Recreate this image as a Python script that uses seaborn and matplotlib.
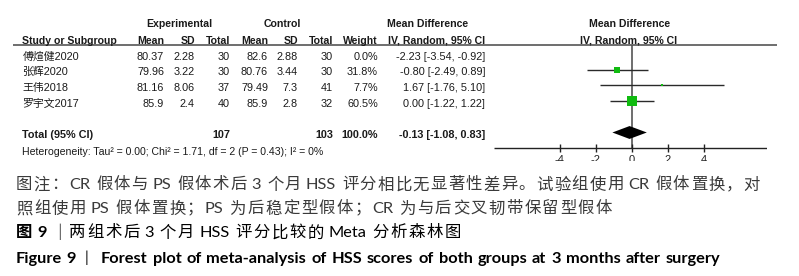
import matplotlib
matplotlib.use("Agg")
import matplotlib.pyplot as plt
import matplotlib.transforms as mtransforms
import seaborn as sns
import pandas as pd

# ---------------- data ----------------
studies = ["傅煊健2020", "张辉2020", "王伟2018", "罗宇文2017"]
exp_mean = [80.37, 79.96, 81.16, 85.9]
exp_sd = [2.28, 3.22, 8.06, 2.4]
exp_n = [30, 30, 37, 40]
ctl_mean = [82.6, 80.76, 79.49, 85.9]
ctl_sd = [2.88, 3.44, 7.3, 2.8]
ctl_n = [30, 30, 41, 32]
weight = [0.0, 31.8, 7.7, 60.5]
md = [-2.23, -0.80, 1.67, 0.00]
ci_lo = [-3.54, -2.49, -1.76, -1.22]
ci_hi = [-0.92, 0.89, 5.10, 1.22]
total_exp_n = 107
total_ctl_n = 103
total_weight = 100.0
total_md = -0.13
total_lo = -1.08
total_hi = 0.83
heterogeneity = "Heterogeneity: Tau² = 0.00; Chi² = 1.71, df = 2 (P = 0.43); I² = 0%"
xticks = [-4, -2, 0, 2, 4]

caption1 = "图注：CR 假体与 PS 假体术后 3 个月 HSS 评分相比无显著性差异。试验组使用 CR 假体置换，对"
caption2 = "照组使用 PS 假体置换；PS 为后稳定型假体；CR 为与后交叉韧带保留型假体"
caption3a = "图 9"
caption3b = "两组术后 3 个月 HSS 评分比较的 Meta 分析森林图"
caption4a = "Figure 9"
caption4b = "Forest plot of meta-analysis of HSS scores of both groups at 3 months after surgery"

# ---------------- style ----------------
sns.set_theme(style="white")
plt.rcParams["font.family"] = ["Liberation Sans", "Noto Sans CJK SC", "DejaVu Sans"]

W, H = 799, 276
fig = plt.figure(figsize=(W / 100, H / 100), dpi=100)
fig.patch.set_facecolor("white")

# overlay axes in pixel coordinates for table layout
tab = fig.add_axes([0, 0, 1, 1])
tab.set_xlim(0, W)
tab.set_ylim(H, 0)
tab.axis("off")

# forest axes
top_px, bot_px = 45, 161
left_px, right_px = 494, 767
ax = fig.add_axes([left_px / W, (H - bot_px) / H, (right_px - left_px) / W, (bot_px - top_px) / H])
row0_px, row_h = 54.0, 15.7
ylim_top = (top_px - row0_px) / row_h
ylim_bot = (bot_px - row0_px) / row_h
XMIN, XMAX = -7.65, 7.5

rows = list(range(len(studies)))
total_row = 5
axis_row = 6

df = pd.DataFrame({"study": studies, "md": md, "lo": ci_lo, "hi": ci_hi,
                   "weight": weight, "row": rows})
drawn = df[df["weight"] > 0].copy()
side_pt = (1 + 0.155 * drawn["weight"]) * 0.72
drawn["area"] = side_pt ** 2

line_col = "#2a2a2a"
green = "#10bb10"

# CI lines
ax.hlines(drawn["row"], drawn["lo"], drawn["hi"], color=line_col, lw=1.0, zorder=2)
# squares
sns.scatterplot(data=drawn, x="md", y="row", size="area",
                sizes=(drawn["area"].min(), drawn["area"].max()),
                size_norm=(drawn["area"].min(), drawn["area"].max()),
                marker="s", color=green, linewidth=0, legend=False, ax=ax, zorder=3)
ax.set_xlim(XMIN, XMAX)
ax.set_ylim(ylim_bot, ylim_top)
ax.axis("off")

# zero line
ax.vlines(0, ylim_top, axis_row, color="#555555", lw=1.2, zorder=1)
# diamond
dh = 0.41
ax.fill([total_lo, total_md, total_hi, total_md],
        [total_row, total_row - dh, total_row, total_row + dh],
        color="black", lw=0, zorder=4)
# x axis
ax.hlines(axis_row, XMIN, XMAX, color="#222222", lw=1.0)
ax.vlines(xticks, axis_row - 0.26, axis_row + 0.26, color="#222222", lw=1.0)
for t in xticks:
    ax.text(t, axis_row + 0.42, f"{t}", ha="center", va="top", fontsize=8,
            color="#222222", clip_on=True)

# ---------------- table ----------------
bt = mtransforms.blended_transform_factory(tab.transData, ax.transData)
fs = 7.8
tc = "#1a1a1a"
hdr = dict(fontsize=7.6, fontweight="bold", color=tc, transform=bt, va="center", clip_on=False)

def txt(x, r, s, ha="right", **kw):
    d = dict(fontsize=fs, color=tc, transform=bt, va="center", ha=ha, clip_on=False)
    d.update(kw)
    tab.text(x, r, s, **d)

r_grp = (24.3 - row0_px) / row_h
r_hdr = (40.7 - row0_px) / row_h
tab.text(179, r_grp, "Experimental", ha="center", **hdr)
tab.text(282, r_grp, "Control", ha="center", **hdr)
tab.text(428, r_grp, "Mean Difference", ha="center", **hdr)
tab.text(630, r_grp, "Mean Difference", ha="center", **hdr)

tab.text(22.5, r_hdr, "Study or Subgroup", ha="left", **hdr)
for x, s in [(164, "Mean"), (195, "SD"), (230, "Total"), (268, "Mean"), (298, "SD"),
             (333, "Total"), (378, "Weight"), (485, "IV, Random, 95% CI")]:
    tab.text(x, r_hdr, s, ha="right", **hdr)
tab.text(629, r_hdr, "IV, Random, 95% CI", ha="center", **hdr)

# header rule
tab.hlines(45, 13, 777, color="#555555", lw=1.2)

off = 0.17
for i, r in enumerate(rows):
    rr = r + off
    txt(22.5, rr, studies[i], ha="left")
    txt(164, rr, f"{exp_mean[i]:g}")
    txt(195, rr, f"{exp_sd[i]:g}")
    txt(230, rr, f"{exp_n[i]}")
    txt(268, rr, f"{ctl_mean[i]:g}")
    txt(298, rr, f"{ctl_sd[i]:g}")
    txt(333, rr, f"{ctl_n[i]}")
    txt(378, rr, f"{weight[i]:.1f}%")
    txt(485, rr, f"{md[i]:.2f} [{ci_lo[i]:.2f}, {ci_hi[i]:.2f}]")

rt = total_row + off
txt(22.5, rt, "Total (95% CI)", ha="left", fontweight="bold")
txt(230, rt, f"{total_exp_n}", fontweight="bold")
txt(333, rt, f"{total_ctl_n}", fontweight="bold")
txt(378, rt, f"{total_weight:.1f}%", fontweight="bold")
txt(485, rt, f"{total_md:.2f} [{total_lo:.2f}, {total_hi:.2f}]", fontweight="bold")
txt(22.5, (152.3 - row0_px) / row_h, heterogeneity, ha="left", fontsize=7.6)

# ---------------- caption ----------------
cap_fam = ["Lato", "Noto Sans CJK SC", "DejaVu Sans"]
renderer = fig.canvas.get_renderer()


def layout_line(x0, y, s, size, color, weight="normal", x1=None, sp_em=0.3):
    """Lay out a line unit by unit (full-width chars / Latin words).
    Extra tracking goes between adjacent non-space units; if there are none,
    the spaces are widened instead so the line spans x0..x1."""
    units, buf = [], ""
    for ch in s:
        if ch == " ":
            if buf:
                units.append(buf)
                buf = ""
            units.append(" ")
        elif ord(ch) < 0x2E80:
            buf += ch
        else:
            if buf:
                units.append(buf)
                buf = ""
            units.append(ch)
    if buf:
        units.append(buf)
    em = size * 100 / 72
    widths, texts = [], []
    for u in units:
        if u == " ":
            widths.append(em * sp_em)
            texts.append(None)
        else:
            t = tab.text(0, y, u, ha="left", va="center", fontsize=size, color=color,
                         family=cap_fam, fontweight=weight)
            if ord(u[0]) >= 0x2E80:
                widths.append(em)  # full-width advance
            else:
                widths.append(t.get_window_extent(renderer).width + 1)
            texts.append(t)
    n = len(units)
    kgaps = [i for i in range(n - 1) if units[i] != " " and units[i + 1] != " "]
    k = 0.0
    if x1 is not None:
        extra = (x1 - x0) - sum(widths)
        if kgaps:
            k = extra / len(kgaps)
        else:
            nsp = sum(1 for u in units if u == " ")
            if nsp:
                add = extra / nsp
                widths = [w + add if u == " " else w for u, w in zip(units, widths)]
    x = x0
    for i, (t, w) in enumerate(zip(texts, widths)):
        if t is not None:
            t.set_x(x)
        x += w
        if i in kgaps:
            x += k


cap_size = 11.8
grey = "#3a3a3a"
layout_line(16, 185, caption1, cap_size, grey, x1=760)
layout_line(16, 209, caption2, cap_size, grey, x1=612)
layout_line(16, 233, caption3a, cap_size, "black", weight="bold", sp_em=0.3)
tab.text(59.5, 233, "｜", ha="center", va="center", fontsize=cap_size, color="black",
         family=cap_fam)
layout_line(69, 233, caption3b, cap_size, "black", x1=461)
layout_line(16, 259, caption4a, 11.8, "black", weight="bold", sp_em=0.22)
tab.text(86, 258, "|", ha="center", va="center", fontsize=11, color="black", family=cap_fam)
layout_line(101, 259, caption4b, 11.8, "black", weight="bold", x1=721)

fig.savefig("out.png", dpi=100, facecolor="white")
